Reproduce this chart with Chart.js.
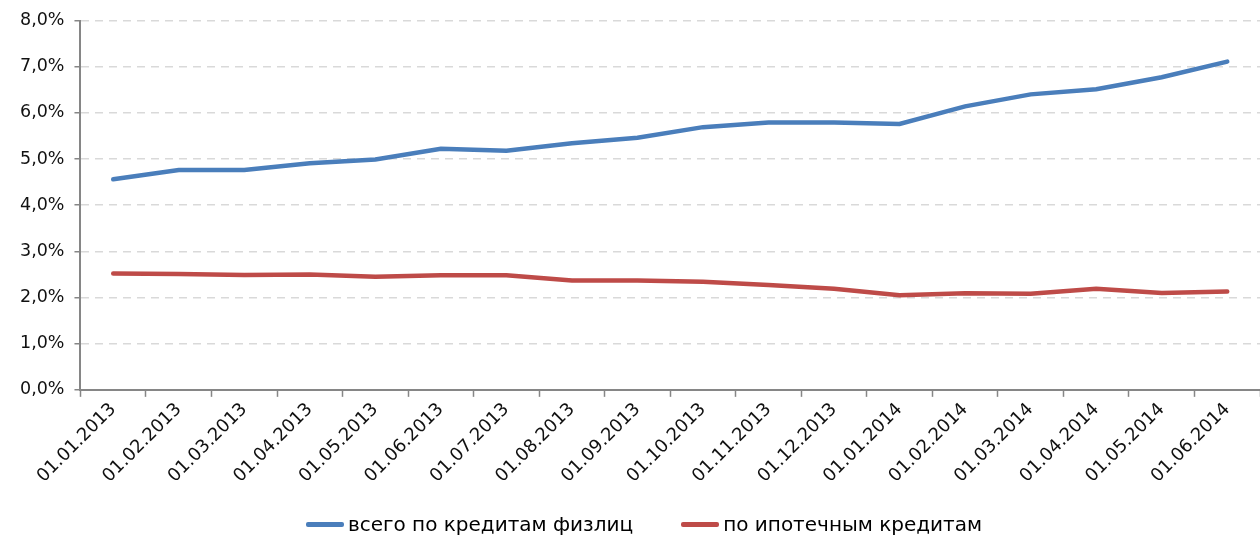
<head>
    <meta charset="UTF-8">
    <title>Просроченная задолженность</title>
    <script src="https://cdn.jsdelivr.net/npm/chart.js@4.4.0/dist/chart.umd.min.js"></script>
    <style>
        html, body { margin: 0; padding: 0; background: #fff; }
        #wrap { position: relative; width: 1260px; height: 538px; }
        #legend { position: absolute; left: 28px; right: 0; top: 512px; text-align: center;
            font-family: 'DejaVu Sans', Verdana, sans-serif; font-size: 20px; color: #000; }
        #legend span.item { display: inline-block; margin: 0 24px; }
        #legend i { display: inline-block; width: 38px; height: 4.5px; border-radius: 2px;
            vertical-align: middle; margin-right: 4px; position: relative; top: -1px; }
    </style>
</head>
<body>
<div id="wrap">
    <canvas id="myChart"></canvas>
    <div id="legend"></div>
</div>
<script>
    // даты (ось X)
    let dates = ["01.01.2013", "01.02.2013", "01.03.2013", "01.04.2013", "01.05.2013", "01.06.2013",
        "01.07.2013", "01.08.2013", "01.09.2013", "01.10.2013", "01.11.2013", "01.12.2013",
        "01.01.2014", "01.02.2014", "01.03.2014", "01.04.2014", "01.05.2014", "01.06.2014"];

    // всего по кредитам физлиц, %
    let totalRetail = [4.56, 4.76, 4.76, 4.91, 4.99, 5.22, 5.18, 5.34, 5.46, 5.69, 5.79, 5.79,
        5.76, 6.14, 6.40, 6.51, 6.77, 7.11];

    // по ипотечным кредитам, %
    let mortgage = [2.52, 2.51, 2.49, 2.50, 2.45, 2.48, 2.48, 2.37, 2.37, 2.34, 2.27, 2.19,
        2.05, 2.09, 2.08, 2.19, 2.10, 2.13];

    let seriesNames = ["всего по кредитам физлиц", "по ипотечным кредитам"];
    let seriesColors = ['#4a7ebb', '#be4b48'];

    const font = "'DejaVu Sans', Verdana, sans-serif";

    var ctx = document.getElementById('myChart').getContext('2d');
    var myChart = new Chart(ctx, {
        type: 'line',
        data: {
            labels: dates,
            datasets: [{
                label: seriesNames[0],
                data: totalRetail,
                borderColor: seriesColors[0],
                backgroundColor: seriesColors[0],
                borderWidth: 4.5,
                pointRadius: 0,
                borderCapStyle: 'round',
                tension: 0
            }, {
                label: seriesNames[1],
                data: mortgage,
                borderColor: seriesColors[1],
                backgroundColor: seriesColors[1],
                borderWidth: 4.5,
                pointRadius: 0,
                borderCapStyle: 'round',
                tension: 0
            }]
        },
        options: {
            responsive: true,
            maintainAspectRatio: false,
            animation: false,
            layout: { padding: { top: 19, right: 0, left: 10, bottom: 49 } },
            plugins: {
                tooltip: { enabled: false },
                legend: { display: false }   // легенда снизу - html
            },
            scales: {
                x: {
                    offset: true,
                    grid: {
                        offset: true,
                        drawOnChartArea: false,
                        drawTicks: true,
                        tickLength: 7,
                        tickColor: '#868686',
                        tickWidth: 1.5
                    },
                    border: { color: '#868686', width: 2 },
                    ticks: {
                        minRotation: 45,
                        maxRotation: 45,
                        autoSkip: false,
                        padding: 2,
                        color: '#111',
                        font: { family: font, size: 18 }
                    }
                },
                y: {
                    min: 0,
                    max: 8,
                    grid: {
                        color: '#d9d9d9',
                        lineWidth: 1.5,
                        tickLength: 6,
                        tickColor: '#868686',
                        tickWidth: 1.5
                    },
                    border: { color: '#868686', width: 2, dash: [8, 6] },
                    ticks: {
                        stepSize: 1,
                        padding: 10,
                        color: '#111',
                        font: { family: font, size: 17.5 },
                        callback: function (v) { return v.toFixed(1).replace('.', ',') + '%'; }
                    }
                }
            }
        }
    });

    // легенда
    var leg = document.getElementById('legend');
    myChart.data.datasets.forEach(function (ds) {
        var item = document.createElement('span');
        item.className = 'item';
        var line = document.createElement('i');
        line.style.background = ds.borderColor;
        item.appendChild(line);
        item.appendChild(document.createTextNode(ds.label));
        leg.appendChild(item);
    });
</script>
</body>
</html>
